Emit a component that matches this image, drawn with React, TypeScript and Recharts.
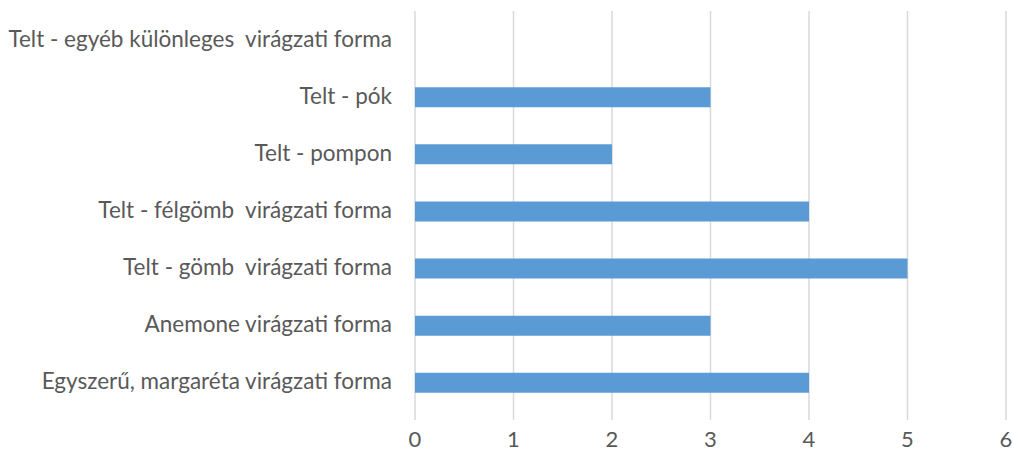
import React from "react";
import { BarChart, Bar, XAxis, YAxis, CartesianGrid } from "recharts";

const categories = [
  "Telt - egyéb különleges  virágzati forma",
  "Telt - pók",
  "Telt - pompon",
  "Telt - félgömb  virágzati forma",
  "Telt - gömb  virágzati forma",
  "Anemone virágzati forma",
  "Egyszerű, margaréta virágzati forma",
];
const counts = [0, 3, 2, 4, 5, 3, 4];
const xTicks = [0, 1, 2, 3, 4, 5, 6];

const data = categories.map((name, i) => ({ name, value: counts[i] }));

const FONT = "Lato, 'Liberation Sans', sans-serif";

function CategoryTick(props: any) {
  const { x, y, payload } = props;
  return (
    <text
      x={x}
      y={y}
      dy={7}
      textAnchor="end"
      fill="#595959"
      fontSize={22.5}
      fontFamily={FONT}
      style={{ whiteSpace: "pre" }}
    >
      {payload.value}
    </text>
  );
}

export default function App() {
  return (
    <div style={{ position: "absolute", left: 0, top: 0, background: "#fff" }}>
      <BarChart
        width={1013}
        height={451}
        data={data}
        layout="vertical"
        margin={{ top: 11, right: 7, bottom: 0, left: 0 }}
        barSize={20}
      >
        <CartesianGrid horizontal={false} stroke="#d9d9d9" strokeWidth={1.5} />
        <XAxis
          type="number"
          domain={[0, 6]}
          ticks={xTicks}
          axisLine={false}
          tickLine={{ stroke: "#d9d9d9", strokeWidth: 1.5 }}
          tickSize={9}
          tickMargin={11}
          height={40}
          tick={{ fill: "#595959", fontSize: 22, fontFamily: FONT }}
        />
        <YAxis
          type="category"
          dataKey="name"
          width={415}
          axisLine={false}
          tickLine={false}
          tickMargin={17}
          tick={<CategoryTick />}
          interval={0}
        />
        <Bar dataKey="value" fill="#5b9bd5" isAnimationActive={false} />
      </BarChart>
    </div>
  );
}
